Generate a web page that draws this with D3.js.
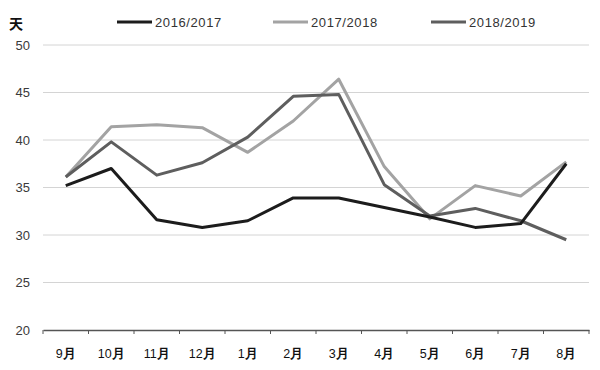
<!DOCTYPE html>
<html>
<head>
<meta charset="utf-8">
<script src="https://cdn.jsdelivr.net/npm/d3@7"></script>
<style>
  body { margin: 0; background: #fff; }
  .tick text { font-family: "Liberation Sans", Arial, sans-serif; }
</style>
</head>
<body>
<div class="chart"></div>
<script>
var months = ["9月", "10月", "11月", "12月", "1月", "2月", "3月", "4月", "5月", "6月", "7月", "8月"];
var yTicks = [20, 25, 30, 35, 40, 45, 50];
var seriesNames = ["2016/2017", "2017/2018", "2018/2019"];
var s2016 = [35.2, 37.0, 31.6, 30.8, 31.5, 33.9, 33.9, 32.9, 31.9, 30.8, 31.2, 37.5];
var s2017 = [36.1, 41.4, 41.6, 41.3, 38.7, 42.0, 46.4, 37.2, 31.7, 35.2, 34.1, 37.7];
var s2018 = [36.1, 39.8, 36.3, 37.6, 40.3, 44.6, 44.8, 35.3, 32.0, 32.8, 31.5, 29.5];

var svgWidth = 600;
var svgHeight = 370;
var margin = { top: 45, right: 11, bottom: 40, left: 43 };
var width = svgWidth - margin.left - margin.right;
var height = svgHeight - margin.top - margin.bottom;

var colors = ["#1c1c1c", "#a3a3a3", "#5e5e5e"];
var allSeries = [s2016, s2017, s2018];

var svg = d3.select(".chart")
    .append("svg")
    .attr("width", svgWidth)
    .attr("height", svgHeight);

var chart = svg.append("g")
    .attr("transform", "translate(" + margin.left + "," + margin.top + ")");

var xScale = d3.scaleBand()
    .domain(months)
    .range([0, width]);

var yScale = d3.scaleLinear()
    .domain([20, 50])
    .range([height, 0]);

// grid lines
chart.selectAll(".grid")
    .data(yTicks.slice(1))
    .enter()
    .append("line")
    .attr("x1", 0)
    .attr("x2", width)
    .attr("y1", function(d) { return yScale(d); })
    .attr("y2", function(d) { return yScale(d); })
    .attr("stroke", "#d4d4d4")
    .attr("stroke-width", 1);

// y axis labels
var leftAxis = d3.axisLeft(yScale).tickValues(yTicks).tickSize(0).tickPadding(13);
chart.append("g")
    .call(leftAxis)
    .call(function(g) { g.select(".domain").remove(); })
    .selectAll("text")
    .attr("font-size", 13)
    .attr("fill", "#3a3a3a");

// x axis
var bottomAxis = d3.axisBottom(xScale).tickSize(0).tickPadding(19);
var xAxis = chart.append("g")
    .attr("transform", "translate(0," + height + ")")
    .call(bottomAxis);
xAxis.select(".domain").attr("stroke", "#555").attr("stroke-width", 1.5);

// month labels: plain digits, bold 月
xAxis.selectAll(".tick text")
    .text(null)
    .attr("font-size", 12.5)
    .attr("font-family", "'Noto Sans CJK SC', sans-serif")
    .attr("fill", "#111")
    .each(function(d) {
        var t = d3.select(this);
        t.append("tspan").attr("font-family", "'Liberation Sans', sans-serif").text(d.replace("月", ""));
        t.append("tspan").attr("font-weight", "bold").text("月");
    });

// tick marks at the band edges
var edges = months.map(function(m) { return xScale(m); }).concat([width]);
xAxis.selectAll(".edge")
    .data(edges)
    .enter()
    .append("line")
    .attr("x1", function(d) { return d; })
    .attr("x2", function(d) { return d; })
    .attr("y1", 0)
    .attr("y2", 4)
    .attr("stroke", "#555")
    .attr("stroke-width", 1);

var line = d3.line()
    .x(function(d, i) { return xScale(months[i]) + xScale.bandwidth() / 2; })
    .y(function(d) { return yScale(d); });

// draw 2016/2017 last so it sits on top like the original
[1, 2, 0].forEach(function(k) {
    chart.append("path")
        .datum(allSeries[k])
        .attr("fill", "none")
        .attr("stroke", colors[k])
        .attr("stroke-width", 3)
        .attr("stroke-linejoin", "round")
        .attr("d", line);
});

// unit label
svg.append("text")
    .attr("x", 9)
    .attr("y", 29)
    .attr("font-size", 14)
    .attr("font-weight", "bold")
    .attr("font-family", "'Noto Sans CJK SC', sans-serif")
    .attr("fill", "#111")
    .text("天");

// legend
var legendX = [117, 273, 431];
var legend = svg.selectAll(".legend")
    .data(seriesNames)
    .enter()
    .append("g")
    .attr("transform", function(d, i) { return "translate(" + legendX[i] + ",22)"; });

legend.append("line")
    .attr("x1", 0)
    .attr("x2", 35)
    .attr("stroke", function(d, i) { return colors[i]; })
    .attr("stroke-width", 3);

legend.append("text")
    .attr("x", 38)
    .attr("y", 5)
    .attr("font-size", 13)
    .attr("letter-spacing", 0.6)
    .attr("font-family", "'Liberation Sans', sans-serif")
    .attr("fill", "#333")
    .text(function(d) { return d; });
</script>
</body>
</html>
